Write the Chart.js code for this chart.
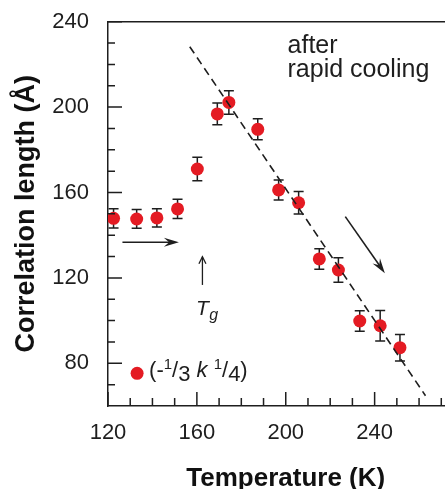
<!DOCTYPE html>
<html><head><meta charset="utf-8">
<script src="https://cdn.jsdelivr.net/npm/chart.js@4/dist/chart.umd.min.js"></script>
<style>html,body{margin:0;padding:0;overflow:hidden;background:#fff;width:445px;height:489px}canvas{display:block}</style>
</head><body>
<canvas id="c" width="470" height="500"></canvas>
<script>
// ---- data ----
const temperatures      = [122.5, 132.9, 142.0, 151.3, 160.2, 169.2, 174.4, 187.4, 196.8, 205.8, 215.1, 223.7, 233.3, 242.5, 251.4];
const correlationLength = [147.9, 147.6, 148.1, 152.3, 171.0, 196.8, 202.2, 189.6, 161.2, 155.2, 128.9, 123.7,  99.8,  97.6,  87.3];
const errorBars         = [  4.5,   4.4,   4.3,   4.5,   5.5,   5.1,   5.5,   4.9,   4.7,   5.3,   4.8,   5.7,   4.8,   7.1,   6.2];
const fitLineT = [156.8, 262.9];
const fitLineL = [228.3, 64.8];
const xTickLabels = [120, 160, 200, 240];
const xMinorTicks = [130, 140, 150, 170, 180, 190, 210, 220, 230, 250, 260, 270];
const yTickLabels = [80, 120, 160, 200, 240];
const yMinorTicks = [70, 90, 100, 110, 130, 140, 150, 170, 180, 190, 210, 220, 230];
const xRange = [120, 280];
const yRange = [60, 240];
// annotation anchors (data units)
const arrowRight = [[126.5, 136.7], [151.9, 136.7]];
const arrowTg    = [[162.5, 116.7], [162.5, 129.9]];
const arrowDown  = [[226.8, 148.7], [244.6, 122.2]];
const noteLines  = [["after", 200.8, 225.2], ["rapid cooling", 200.8, 214.2]];
const tgAnchor   = [159.6, 102.6];
const legendAnchor = [133.1, 75.3];

const RED = '#e41b23';
const INK = '#1e1e1e';
const FONT = '"Liberation Sans", Arial, sans-serif';

function arrow(ctx, x1, y1, x2, y2, filled, len, half, lw) {
  const a = Math.atan2(y2 - y1, x2 - x1);
  ctx.lineWidth = lw;
  ctx.beginPath(); ctx.moveTo(x1, y1);
  ctx.lineTo(filled ? x2 - Math.cos(a) * len * 0.6 : x2, filled ? y2 - Math.sin(a) * len * 0.6 : y2);
  ctx.stroke();
  const bx = x2 - Math.cos(a) * len, by = y2 - Math.sin(a) * len;
  const nx = -Math.sin(a) * half, ny = Math.cos(a) * half;
  ctx.beginPath();
  if (filled) {
    ctx.moveTo(x2, y2); ctx.lineTo(bx + nx, by + ny);
    ctx.lineTo(x2 - Math.cos(a) * len * 0.65, y2 - Math.sin(a) * len * 0.65);
    ctx.lineTo(bx - nx, by - ny); ctx.closePath(); ctx.fill();
  } else {
    ctx.moveTo(bx + nx, by + ny); ctx.lineTo(x2, y2); ctx.lineTo(bx - nx, by - ny); ctx.stroke();
  }
}

const decor = {
  id: 'decor',
  beforeDatasetsDraw(chart) {
    const {ctx, scales: {x, y}} = chart;
    ctx.save();
    ctx.strokeStyle = INK; ctx.lineWidth = 1.5;
    temperatures.forEach((t, i) => {
      const px = x.getPixelForValue(t);
      const top = y.getPixelForValue(correlationLength[i] + errorBars[i]);
      const bot = y.getPixelForValue(correlationLength[i] - errorBars[i]);
      ctx.beginPath();
      ctx.moveTo(px, top); ctx.lineTo(px, bot);
      ctx.moveTo(px - 5, top); ctx.lineTo(px + 5, top);
      ctx.moveTo(px - 5, bot); ctx.lineTo(px + 5, bot);
      ctx.stroke();
    });
    ctx.restore();
  },
  afterDraw(chart) {
    const {ctx, chartArea: ca, scales: {x, y}} = chart;
    ctx.save();
    ctx.strokeStyle = INK; ctx.fillStyle = INK; ctx.lineWidth = 1.5;
    // top frame line
    ctx.beginPath(); ctx.moveTo(ca.left, ca.top); ctx.lineTo(ca.right, ca.top); ctx.stroke();
    // inward ticks
    ctx.beginPath();
    xTickLabels.forEach(v => { const p = x.getPixelForValue(v); ctx.moveTo(p, ca.bottom); ctx.lineTo(p, ca.bottom - 14); });
    xMinorTicks.forEach(v => { const p = x.getPixelForValue(v); ctx.moveTo(p, ca.bottom); ctx.lineTo(p, ca.bottom - 8); });
    yTickLabels.forEach(v => { const p = y.getPixelForValue(v); ctx.moveTo(ca.left, p); ctx.lineTo(ca.left + 14, p); });
    yMinorTicks.forEach(v => { const p = y.getPixelForValue(v); ctx.moveTo(ca.left, p); ctx.lineTo(ca.left + 7, p); });
    ctx.stroke();
    // arrows
    const P = (pt) => [x.getPixelForValue(pt[0]), y.getPixelForValue(pt[1])];
    let a = P(arrowRight[0]), b = P(arrowRight[1]);
    arrow(ctx, a[0], a[1], b[0], b[1], true, 15, 4.5, 1.6);
    a = P(arrowDown[0]); b = P(arrowDown[1]);
    arrow(ctx, a[0], a[1], b[0], b[1], true, 15, 4.5, 1.6);
    a = P(arrowTg[0]); b = P(arrowTg[1]);
    arrow(ctx, a[0], a[1], b[0], b[1], false, 7, 3.5, 1.3);
    // texts
    ctx.textBaseline = 'alphabetic'; ctx.textAlign = 'left';
    ctx.font = '25px ' + FONT;
    noteLines.forEach(([t, vx, vy]) => ctx.fillText(t, x.getPixelForValue(vx), y.getPixelForValue(vy)));
    // T_g
    let [tx, ty] = P(tgAnchor);
    ctx.font = 'italic 21px ' + FONT;
    ctx.fillText('T', tx, ty);
    const tw = ctx.measureText('T').width;
    ctx.font = 'italic 16px ' + FONT;
    ctx.fillText('g', tx + tw + 0.5, ty + 5);
    // legend
    const [lx, ly] = P(legendAnchor);
    ctx.fillStyle = RED;
    ctx.beginPath(); ctx.arc(lx, ly, 6.5, 0, Math.PI * 2); ctx.fill();
    ctx.fillStyle = INK;
    const base = ly + 3.5;
    let cx = lx + 12;
    const seg = (txt, font, dy) => { ctx.font = font; ctx.fillText(txt, cx, base + dy); cx += ctx.measureText(txt).width; };
    const N = '22px ' + FONT, S = '15px ' + FONT, I = 'italic 22px ' + FONT;
    seg('(-', N, 0); seg('1', S, -8); seg('/', N, 0); seg('3', N, 4);
    seg(' ', N, 0); seg('k', I, 0); seg(' ', N, 0);
    seg('1', S, -8); seg('/', N, 0); seg('4', N, 4); seg(')', N, 0);
    ctx.restore();
  }
};

new Chart(document.getElementById('c'), {
  type: 'scatter',
  data: {
    datasets: [
      {
        type: 'line',
        data: fitLineT.map((t, i) => ({x: t, y: fitLineL[i]})),
        borderColor: INK, borderWidth: 1.6, borderDash: [8, 5],
        pointRadius: 0, fill: false
      },
      {
        data: temperatures.map((t, i) => ({x: t, y: correlationLength[i]})),
        backgroundColor: RED, borderColor: RED, borderWidth: 0,
        pointRadius: 6.5, pointHoverRadius: 6.5
      }
    ]
  },
  options: {
    responsive: false, animation: false, devicePixelRatio: 1,
    layout: {padding: {top: 21.7, right: 2, left: 0, bottom: 0}},
    plugins: {legend: {display: false}, tooltip: {enabled: false}},
    scales: {
      x: {
        type: 'linear', min: xRange[0], max: xRange[1],
        afterBuildTicks: s => { s.ticks = xTickLabels.map(v => ({value: v})); },
        afterFit: s => { s.height = 94; s.paddingLeft = 0; s.paddingRight = 0; },
        grid: {display: false, drawTicks: false},
        border: {display: true, color: INK, width: 1.5},
        ticks: {color: INK, font: {family: FONT, size: 22}, padding: 14, maxRotation: 0},
        title: {display: true, text: 'Temperature (K)', color: '#111', font: {family: FONT, size: 26, weight: 'bold'}, padding: {top: 0, bottom: 6}}
      },
      y: {
        type: 'linear', min: yRange[0], max: yRange[1],
        afterBuildTicks: s => { s.ticks = yTickLabels.map(v => ({value: v})); },
        afterFit: s => { s.width = 108; s.paddingTop = 0; s.paddingBottom = 0; },
        grid: {display: false, drawTicks: false},
        border: {display: true, color: INK, width: 1.5},
        ticks: {color: INK, font: {family: FONT, size: 22}, padding: 19},
        title: {display: true, text: 'Correlation length (Å)', color: '#111', font: {family: FONT, size: 27, weight: 'bold'}, padding: {top: 10, bottom: 0}}
      }
    }
  },
  plugins: [decor]
});
</script>
</body></html>
